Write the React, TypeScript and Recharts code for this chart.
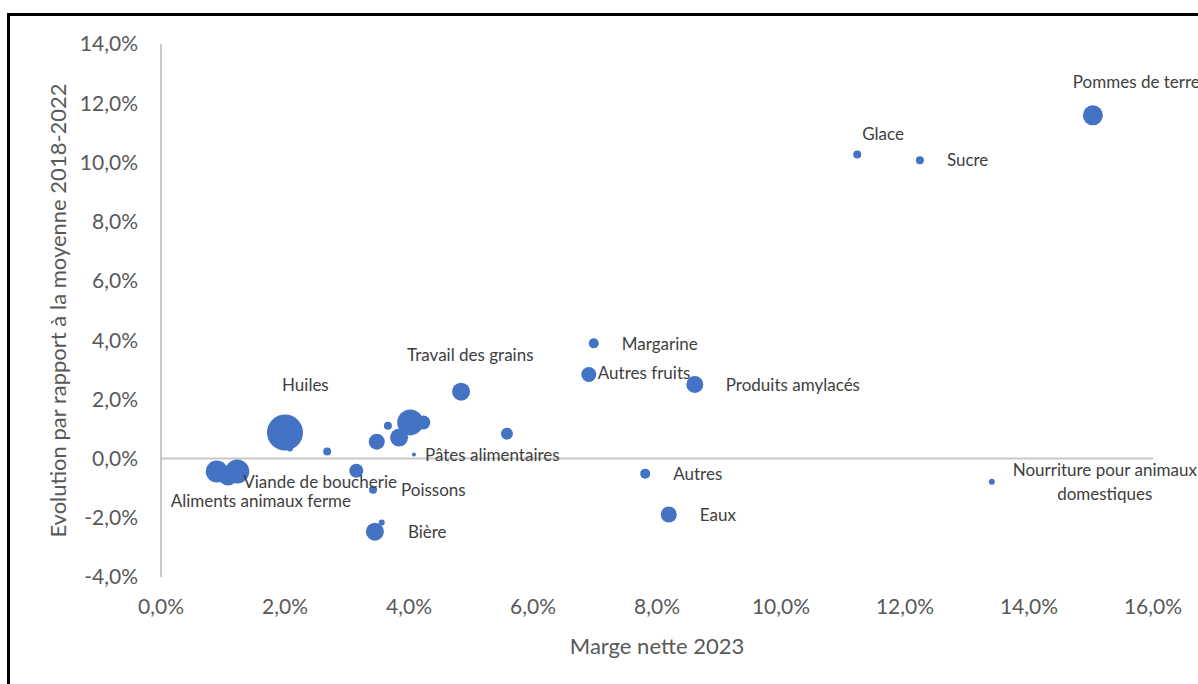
import { ScatterChart, Scatter, XAxis, YAxis, ZAxis, ReferenceLine, Label } from "recharts";

// Marge nette 2023 (%), évolution vs moyenne 2018-2022 (%), poids (taille des bulles)
const names = [
  "Pommes de terre", "Glace", "Sucre", "Margarine", "Autres fruits",
  "Produits amylacés", "Travail des grains", "Huiles", "", "",
  "", "", "", "", "",
  "", "Pâtes alimentaires", "Autres", "Eaux", "Nourriture pour animaux domestiques",
  "Aliments animaux ferme", "", "Viande de boucherie", "", "Poissons",
  "Bière", "",
];
const margins = [
  15.03, 11.23, 12.24, 6.98, 6.90,
  8.61, 4.84, 2.00, 2.08, 2.68,
  3.66, 4.02, 4.23, 3.84, 3.48,
  5.58, 4.08, 7.81, 8.19, 13.40,
  0.90, 1.08, 1.23, 3.15, 3.42,
  3.45, 3.56,
];
const evolutions = [
  11.59, 10.27, 10.07, 3.89, 2.84,
  2.50, 2.26, 0.88, 0.34, 0.24,
  1.11, 1.22, 1.22, 0.71, 0.57,
  0.84, 0.14, -0.51, -1.89, -0.78,
  -0.44, -0.57, -0.44, -0.41, -1.05,
  -2.47, -2.16,
];
const sizes = [
  100, 16, 16, 25, 56,
  72, 81, 324, 9, 16,
  16, 169, 49, 81, 64,
  36, 4, 25, 64, 9,
  121, 100, 144, 49, 16,
  81, 9,
];
const xTicks = [0, 2, 4, 6, 8, 10, 12, 14, 16];
const yTicks = [-4, -2, 0, 2, 4, 6, 8, 10, 12, 14];

const points = names.map((name, i) => ({
  name,
  marge: margins[i],
  evolution: evolutions[i],
  poids: sizes[i],
}));

// placement manuel des étiquettes (décalage en px depuis le centre de la bulle)
const labelPos: Record<string, { dx: number; dy: number; anchor?: string; lines?: string[] }> = {
  "Pommes de terre": { dx: -20, dy: -33 },
  "Glace": { dx: 5, dy: -20 },
  "Sucre": { dx: 27, dy: 0 },
  "Margarine": { dx: 28, dy: 1 },
  "Autres fruits": { dx: 9, dy: -1 },
  "Produits amylacés": { dx: 31, dy: 1 },
  "Travail des grains": { dx: -54, dy: -37 },
  "Huiles": { dx: -3, dy: -47 },
  "Pâtes alimentaires": { dx: 11, dy: 1 },
  "Autres": { dx: 28, dy: 0 },
  "Eaux": { dx: 31, dy: 1 },
  "Nourriture pour animaux domestiques": {
    dx: 113, dy: -12, anchor: "middle", lines: ["Nourriture pour animaux", "domestiques"],
  },
  "Aliments animaux ferme": { dx: -46, dy: 29 },
  "Viande de boucherie": { dx: 6, dy: 10 },
  "Poissons": { dx: 28, dy: 0 },
  "Bière": { dx: 33, dy: 0 },
};

const FONT = "Lato, 'Open Sans', sans-serif";
const BLUE = "#4472C4";
const GRID = "#c8c8c8";

const fmt = (v: number) => `${v.toFixed(1).replace(".", ",")}%`;

const Bubble = (props: any) => {
  const { cx, cy, width } = props;
  return <circle cx={cx} cy={cy} r={width / 2} fill={BLUE} />;
};

const BubbleLabel = (props: any) => {
  const { cx, cy, payload } = props;
  const pos = labelPos[payload?.name];
  if (!pos) return null;
  const lines = pos.lines ?? [payload.name];
  return (
    <text
      x={cx + pos.dx}
      y={cy + pos.dy}
      textAnchor={pos.anchor ?? "start"}
      fontFamily={FONT}
      fontSize={17}
      fill="#404040"
    >
      {lines.map((l, i) => (
        <tspan key={i} x={cx + pos.dx} dy={i === 0 ? "0.35em" : 24}>
          {l}
        </tspan>
      ))}
    </text>
  );
};

export default function App() {
  return (
    <div style={{ position: "absolute", left: 0, top: 0, width: 1198, height: 684, overflow: "hidden", background: "#fff" }}>
      {/* cadre */}
      <div
        style={{
          position: "absolute", left: 7, top: 13, width: 1400, height: 900,
          borderTop: "3px solid #000", borderLeft: "3px solid #000",
        }}
      />
      <div style={{ position: "absolute", left: 0, top: 0 }}>
        <ScatterChart width={1198} height={684} margin={{ top: 44, right: 45, bottom: 47, left: 0 }}>
          <XAxis
            type="number"
            dataKey="marge"
            domain={[0, 16]}
            ticks={xTicks}
            tickFormatter={fmt}
            axisLine={false}
            tickLine={false}
            tickSize={6}
            tickMargin={16}
            height={60}
            interval={0}
            tick={{ fontSize: 21, fill: "#595959", fontFamily: FONT }}
          >
            <Label
              content={(p: any) => {
                const vb = p.viewBox;
                return (
                  <text x={vb.x + vb.width / 2} y={vb.y + 69} dy="0.35em" textAnchor="middle"
                    fontFamily={FONT} fontSize={22} fill="#595959">
                    Marge nette 2023
                  </text>
                );
              }}
            />
          </XAxis>
          <YAxis
            type="number"
            dataKey="evolution"
            domain={[-4, 14]}
            ticks={yTicks}
            tickFormatter={fmt}
            axisLine={{ stroke: GRID, strokeWidth: 2 }}
            tickLine={false}
            tickSize={6}
            tickMargin={17}
            width={161}
            interval={0}
            tick={{ fontSize: 21, fill: "#595959", fontFamily: FONT }}
          >
            <Label
              content={(p: any) => {
                const vb = p.viewBox;
                const x = vb.x + 58;
                const y = vb.y + vb.height / 2;
                return (
                  <text x={x} y={y} dy="0.35em" textAnchor="middle" transform={`rotate(-90, ${x}, ${y})`}
                    fontFamily={FONT} fontSize={22} fill="#595959">
                    Evolution par rapport à la moyenne 2018-2022
                  </text>
                );
              }}
            />
          </YAxis>
          <ZAxis type="number" dataKey="poids" domain={[0, 324]} range={[0, Math.PI * 324]} />
          <ReferenceLine y={0} stroke={GRID} strokeWidth={2} />
          <Scatter data={points} shape={Bubble} isAnimationActive={false} />
          <Scatter data={points} shape={BubbleLabel} isAnimationActive={false} />
        </ScatterChart>
      </div>
    </div>
  );
}
